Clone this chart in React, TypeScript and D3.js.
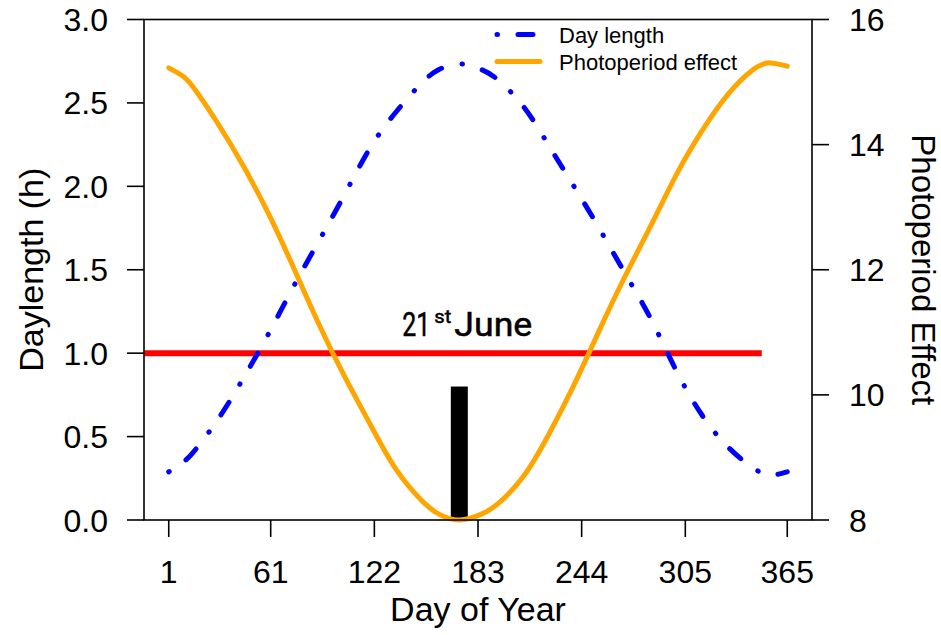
import React from "react";
import * as d3 from "d3";

// ---- data ----
const days = [1, 8, 15, 30, 45, 60, 75, 90, 105, 120, 135, 150, 160, 172, 185, 195, 210, 225, 240, 255, 270, 285, 300, 315, 330, 345, 355, 365];
// Day length (hours) – right axis
const dayLengthHours = [8.77, 8.9, 9.07, 9.61, 10.27, 10.99, 11.76, 12.49, 13.23, 13.97, 14.53, 14.99, 15.2, 15.29, 15.2, 15.03, 14.6, 13.97, 13.31, 12.63, 11.92, 11.2, 10.37, 9.67, 9.17, 8.83, 8.72, 8.77];
// Photoperiod effect – left axis
const photoperiodEffect = [2.71, 2.67, 2.6, 2.375, 2.12, 1.83, 1.5, 1.16, 0.85, 0.565, 0.3, 0.115, 0.035, 0.0, 0.035, 0.1, 0.265, 0.52, 0.82, 1.15, 1.47, 1.77, 2.075, 2.335, 2.55, 2.7, 2.74, 2.72];

const xTicks = [1, 61, 122, 183, 244, 305, 365];
const leftTicks = [0, 0.5, 1.0, 1.5, 2.0, 2.5, 3.0];
const rightTicks = [8, 10, 12, 14, 16];

const refLevel = 1.0;
const refLineEndDay = 350;
const solsticeDay = 172;
const solsticeBarHeight = 0.8;
const solsticeBarHalfWidthDays = 5;

const legendLabels = ["Day length", "Photoperiod effect"];

// ---- layout ----
const W = 941;
const H = 635;
const L = 144;
const R = 812;
const T = 19.5;
const B = 520;
const TICK = 17;
const FONT = "'Liberation Sans', Arial, Helvetica, sans-serif";

export default function App() {
  const ext = (365 - 1) * 0.04;
  const x = d3.scaleLinear().domain([1 - ext, 365 + ext]).range([L, R]);
  const yL = d3.scaleLinear().domain([0, 3]).range([B, T]);
  const yR = d3.scaleLinear().domain([8, 16]).range([B, T]);

  const orangeLine = d3
    .line<number>()
    .x((_, i) => x(days[i]))
    .y((d) => Math.min(yL(d), B))
    .curve(d3.curveNatural)(photoperiodEffect) as string;

  const blueLine = d3
    .line<number>()
    .x((_, i) => x(days[i]))
    .y((d) => yR(d))
    .curve(d3.curveNatural)(dayLengthHours) as string;

  const dash = "0.5 20.5 15 21";
  const tickFs = 32;
  const titleFs = 34;

  const annX = x(solsticeDay) - 57;

  return (
    <svg
      width={W}
      height={H}
      style={{ position: "absolute", left: 0, top: 0, background: "#fff" }}
      fontFamily={FONT}
    >
      <rect x={0} y={0} width={W} height={H} fill="#fff" />

      {/* reference red line */}
      <line
        x1={x.range()[0]}
        x2={x(refLineEndDay)}
        y1={yL(refLevel)}
        y2={yL(refLevel)}
        stroke="#ff0000"
        strokeWidth={6}
      />

      {/* solstice bar */}
      <rect
        x={x(solsticeDay - solsticeBarHalfWidthDays)}
        width={x(solsticeDay + solsticeBarHalfWidthDays) - x(solsticeDay - solsticeBarHalfWidthDays)}
        y={yL(solsticeBarHeight)}
        height={yL(0) - yL(solsticeBarHeight)}
        fill="#000"
      />

      {/* curves */}
      <path d={orangeLine} fill="none" stroke="#ffa500" strokeWidth={5} strokeLinecap="round" />
      <path
        d={blueLine}
        fill="none"
        stroke="#0000ff"
        strokeWidth={5}
        strokeLinecap="round"
        strokeDasharray={dash}
      />

      {/* frame */}
      <rect x={L} y={T} width={R - L} height={B - T} fill="none" stroke="#000" strokeWidth={1.6} />

      {/* x axis */}
      {xTicks.map((t) => (
        <g key={"x" + t}>
          <line x1={x(t)} x2={x(t)} y1={B} y2={B + TICK} stroke="#000" strokeWidth={1.6} />
          <text x={x(t)} y={583} textAnchor="middle" fontSize={tickFs} fill="#000">
            {t}
          </text>
        </g>
      ))}
      <text x={(L + R) / 2} y={621} textAnchor="middle" fontSize={titleFs} fill="#000">
        Day of Year
      </text>

      {/* left axis */}
      {leftTicks.map((t) => (
        <g key={"l" + t}>
          <line x1={L - TICK} x2={L} y1={yL(t)} y2={yL(t)} stroke="#000" strokeWidth={1.6} />
          <text x={108} y={yL(t)} dy="0.36em" textAnchor="end" fontSize={tickFs} fill="#000">
            {t.toFixed(1)}
          </text>
        </g>
      ))}
      <text
        transform={`translate(43,${(T + B) / 2}) rotate(-90)`}
        textAnchor="middle"
        fontSize={titleFs}
        fill="#000"
      >
        Daylength (h)
      </text>

      {/* right axis */}
      {rightTicks.map((t) => (
        <g key={"r" + t}>
          <line x1={R} x2={R + TICK} y1={yR(t)} y2={yR(t)} stroke="#000" strokeWidth={1.6} />
          <text x={849} y={yR(t)} dy="0.36em" textAnchor="start" fontSize={tickFs} fill="#000">
            {t}
          </text>
        </g>
      ))}
      <text
        transform={`translate(912,${(T + B) / 2}) rotate(90)`}
        textAnchor="middle"
        fontSize={33}
        fill="#000"
      >
        Photoperiod Effect
      </text>

      {/* annotation */}
      <g fontFamily="Roboto, 'Noto Sans', sans-serif" fontWeight={400} fill="#000" stroke="#000" strokeWidth={0.5}>
        <text x={annX} y={336} fontSize={33} textLength={28} lengthAdjust="spacingAndGlyphs">
          21
        </text>
        <text x={annX + 32} y={323} fontSize={18} textLength={17} lengthAdjust="spacingAndGlyphs">
          st
        </text>
        <text x={annX + 52} y={336} fontSize={33} textLength={78} lengthAdjust="spacingAndGlyphs">
          June
        </text>
      </g>

      {/* legend */}
      <g>
        <line x1={497} x2={540} y1={34.5} y2={34.5} stroke="#0000ff" strokeWidth={5} strokeLinecap="round" strokeDasharray={dash} />
        <text x={559} y={42.5} fontSize={22} fill="#000">
          {legendLabels[0]}
        </text>
        <line x1={497} x2={540} y1={61.5} y2={61.5} stroke="#ffa500" strokeWidth={5} strokeLinecap="round" />
        <text x={559} y={69.5} fontSize={22} fill="#000">
          {legendLabels[1]}
        </text>
      </g>
    </svg>
  );
}
